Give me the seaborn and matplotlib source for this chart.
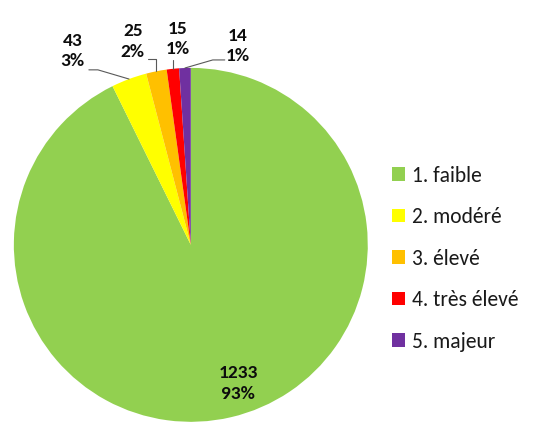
import numpy as np
import matplotlib.pyplot as plt
import seaborn as sns

categories = ['1. faible', '2. modéré', '3. élevé', '4. très élevé', '5. majeur']
counts = [1233, 43, 25, 15, 14]
colors = ['#92D050', '#FFFF00', '#FFC000', '#FF0000', '#7030A0']

sns.set_theme(style='white')
plt.rcParams['font.family'] = ['Carlito', 'Lato', 'DejaVu Sans']

fig = plt.figure(figsize=(5.33, 4.24), dpi=100)
ax = fig.add_axes([0.026, 0.005, 0.664, 0.835])

wedges, _ = ax.pie(counts, colors=sns.color_palette(colors), startangle=90,
                   counterclock=False, radius=1, wedgeprops=dict(linewidth=0))
ax.set_xlim(-1, 1)
ax.set_ylim(-1, 1)
ax.set_aspect('equal')

total = sum(counts)
labels = [f'{c}\n{round(c / total * 100)}%' for c in counts]

# label layout: text position, line start, elbow x (None = straight down to wedge)
text_pos = [(0.266, -0.785), (-0.667, 1.095), (-0.328, 1.148), (-0.073, 1.164), (0.266, 1.125)]
line_start = [None, (-0.576, 0.989), (-0.243, 1.051), (None, 1.045), (0.192, 1.045)]
elbow_x = [None, -0.525, None, None, 0.124]

for i, w in enumerate(wedges):
    ax.text(*text_pos[i], labels[i], ha='center', va='center', fontsize=14,
            fontweight='bold', linespacing=1.35, color='#0d0d0d')
    if line_start[i] is None:
        continue
    mid = np.deg2rad((w.theta1 + w.theta2) / 2)
    ex, ey = np.cos(mid), np.sin(mid)
    sx, sy = line_start[i]
    if sx is None:
        sx = ex
    kx = ex if elbow_x[i] is None else elbow_x[i]
    ax.plot([sx, kx, ex], [sy, sy, ey], color='#595959', lw=0.8, clip_on=False)

fig.legend(wedges, categories, loc='center left', bbox_to_anchor=(0.716, 0.39),
           frameon=False, fontsize=15.5, handlelength=0.58, handleheight=0.58,
           handletextpad=0.35, labelspacing=1.0, borderpad=0, labelcolor='#1a1a1a')

fig.savefig('out.png', dpi=100)
